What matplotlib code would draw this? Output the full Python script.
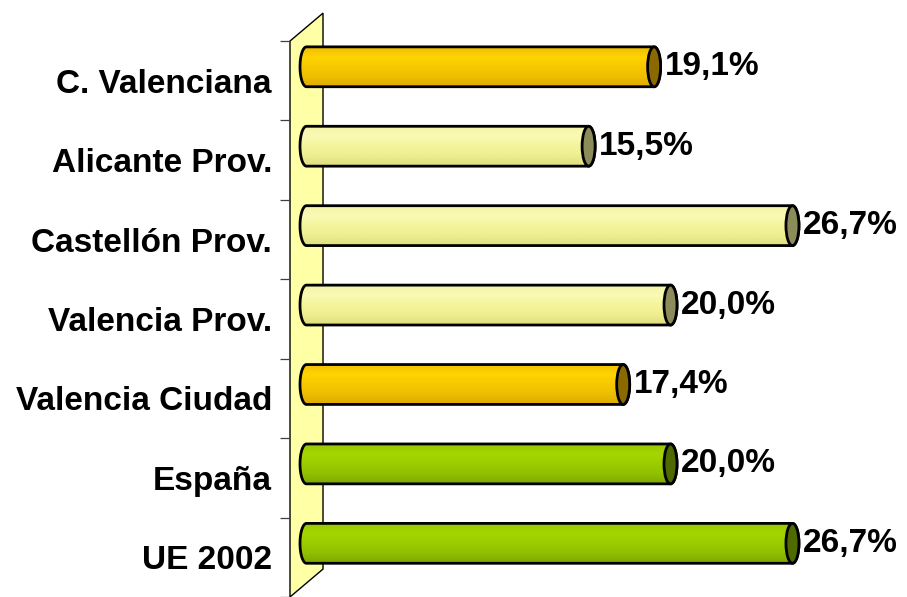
import numpy as np
import matplotlib
matplotlib.use("Agg")
import matplotlib.pyplot as plt
from matplotlib.path import Path
from matplotlib.patches import PathPatch, Ellipse, Polygon
from matplotlib.colors import to_rgb

# datos
categorias = ["C. Valenciana", "Alicante Prov.", "Castellón Prov.", "Valencia Prov.",
              "Valencia Ciudad", "España", "UE 2002"]
valores = [19.1, 15.5, 26.7, 20.0, 17.4, 20.0, 26.7]
etiquetas = ["19,1%", "15,5%", "26,7%", "20,0%", "17,4%", "20,0%", "26,7%"]
grupo = ["oro", "claro", "claro", "claro", "oro", "verde", "verde"]

# colores: (degradado arriba->abajo, tapa)
colores = {
    "oro": (["#F0BE00", "#FFD400", "#F7C800", "#EDBE00", "#DCAA00"], "#8A6A00"),
    "claro": (["#F4F4A8", "#FAFAB4", "#F4F49C", "#EEEE90", "#DEDE80"], "#8C8C5A"),
    "verde": (["#96C800", "#A6D600", "#9ACC00", "#90C000", "#7EA800"], "#4E6A00"),
}

plt.rcParams['font.family'] = ['Liberation Sans', 'DejaVu Sans']

fig = plt.figure(figsize=(9.07, 5.97), dpi=100)
ax = fig.add_axes([290 / 907, 0, 617 / 907, 1])

# escala en pixeles (plano medio)
px_x = 18.2       # px por 1%
px_y = 79.67      # px por categoria
dx = 16.5 / px_x  # media profundidad
dy = 14 / px_y
a = 6.5 / px_x    # semieje de la tapa
h = 40 / px_y     # alto de barra
n = len(categorias)

# pared lateral
pared = Polygon([(-dx, -0.5 + dy), (dx, -0.5 - dy), (dx, n - 0.5 - dy), (-dx, n - 0.5 + dy)],
                closed=True, facecolor="#FFFFA6", edgecolor="black", lw=1.0,
                clip_on=False, zorder=1)
ax.add_patch(pared)


def degradado(stops, m=60):
    cols = np.array([to_rgb(c) for c in stops])
    pos = np.linspace(0, 1, len(stops))
    t = np.linspace(0, 1, m)
    arr = np.stack([np.interp(t, pos, cols[:, k]) for k in range(3)], axis=-1)
    return arr[:, None, :]


def cuerpo(v, y):
    th1 = np.linspace(np.pi / 2, 3 * np.pi / 2, 40)
    izq = np.column_stack([a * np.cos(th1), y - (h / 2) * np.sin(th1)])
    th2 = np.linspace(-np.pi / 2, np.pi / 2, 40)
    der = np.column_stack([v + a * np.cos(th2), y - (h / 2) * np.sin(th2)])
    pts = np.vstack([izq, der, izq[:1]])
    return Path(pts, closed=True)


for i, (v, g) in enumerate(zip(valores, grupo)):
    stops, tapa = colores[g]
    path = cuerpo(v, i)
    borde = PathPatch(path, facecolor="none", edgecolor="black", lw=2.0, zorder=4)
    clip = PathPatch(path, facecolor="none", edgecolor="none")
    ax.add_patch(clip)
    im = ax.imshow(degradado(stops), extent=(-a, v + a, i + h / 2, i - h / 2),
                   aspect="auto", zorder=3, interpolation="bilinear")
    im.set_clip_path(clip)
    ax.add_patch(borde)
    ax.add_patch(Ellipse((v, i), 2 * a, h, facecolor=tapa, edgecolor="black",
                         lw=2.0, zorder=5))
    ax.annotate(etiquetas[i], xy=(v, i), xytext=(7.5, 0), textcoords="offset points",
                ha="left", va="center", fontsize=24, fontweight="bold", zorder=6)

ax.set_xlim(-dx, (907 - 306.5) / px_x)
ax.set_ylim((597 - 67) / px_y, -67 / px_y)

# ejes
for s in ax.spines.values():
    s.set_visible(False)
ax.set_xticks([])
ax.set_yticks([i + dy for i in range(n)])
ax.set_yticklabels(categorias, fontsize=24, fontweight="bold")
ax.set_yticks([k - 0.5 + dy for k in range(n + 1)], minor=True)
ax.tick_params(axis="y", which="major", length=0, pad=13)
ax.tick_params(axis="y", which="minor", length=7.2, width=0.9, color="#404040", direction="out")
ax.patch.set_alpha(0)

fig.savefig("out.png", dpi=100)
